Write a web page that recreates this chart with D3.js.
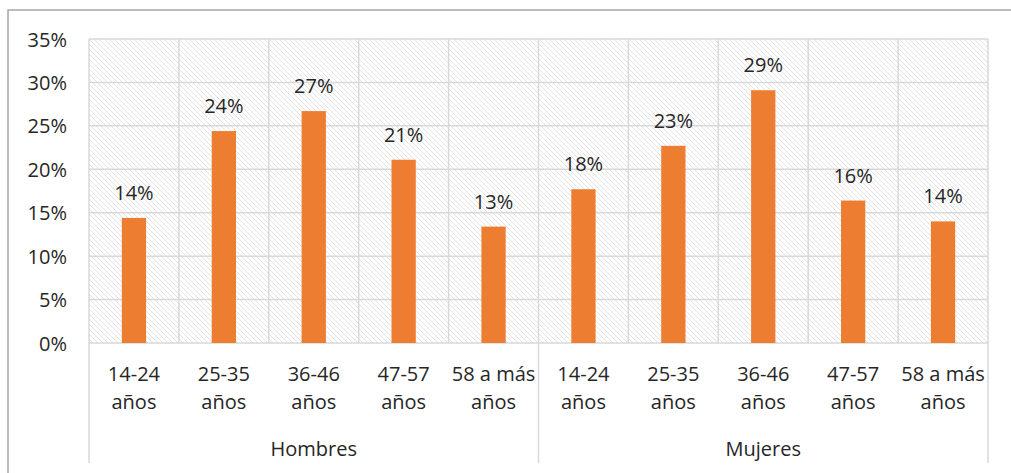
<!DOCTYPE html>
<html>
<head>
<meta charset="utf-8">
<script src="https://cdn.jsdelivr.net/npm/d3@7/dist/d3.min.js"></script>
<style>
  body { margin: 0; background: #fff; }
  text { font-family: "Open Sans", "Noto Sans", sans-serif; fill: #262626; }
</style>
</head>
<body>
<div id="chart"></div>
<script>
// Datos
var grupos = ["Hombres", "Mujeres"];
var edades = ["14-24 años", "25-35 años", "36-46 años", "47-57 años", "58 a más años"];
var hombres = [0.144, 0.244, 0.267, 0.211, 0.134];
var mujeres = [0.177, 0.227, 0.291, 0.164, 0.140];
var ticks = [0, 0.05, 0.10, 0.15, 0.20, 0.25, 0.30, 0.35];

var width = 1011, height = 473;
var plot = { left: 89, right: 988, top: 39, bottom: 343 };
var fontSize = "20px";

// Tabla combinada
var datos = [];
grupos.forEach(function(g, gi) {
    var vals = gi === 0 ? hombres : mujeres;
    edades.forEach(function(e, i) {
        datos.push({ key: g + "|" + e, grupo: g, edad: e, valor: vals[i] });
    });
});

var svg = d3.select("#chart").append("svg")
    .attr("width", width)
    .attr("height", height);

// Patrón de rayado del fondo
var defs = svg.append("defs");
defs.append("pattern")
    .attr("id", "rayas")
    .attr("patternUnits", "userSpaceOnUse")
    .attr("width", 5).attr("height", 5)
  .append("path")
    .attr("d", "M-1,-1 L6,6 M-1,4 L1,6 M4,-1 L6,1")
    .attr("stroke", "#e0e0e0")
    .attr("stroke-width", 0.9);

// Borde exterior
svg.append("rect")
    .attr("x", 8).attr("y", 10)
    .attr("width", 1010).attr("height", 470)
    .attr("fill", "none")
    .attr("stroke", "#a6a6a6")
    .attr("stroke-width", 1.5);

var xScale = d3.scaleBand()
    .domain(datos.map(function(d) { return d.key; }))
    .range([plot.left, plot.right])
    .padding(0);

var yScale = d3.scaleLinear()
    .domain([0, 0.35])
    .range([plot.bottom, plot.top]);

// Fondo rayado
svg.append("rect")
    .attr("x", plot.left).attr("y", plot.top)
    .attr("width", plot.right - plot.left)
    .attr("height", plot.bottom - plot.top)
    .attr("fill", "url(#rayas)");

// Líneas de cuadrícula horizontales
svg.append("g")
    .selectAll("line")
    .data(ticks)
    .enter().append("line")
    .attr("x1", plot.left).attr("x2", plot.right)
    .attr("y1", function(d) { return yScale(d); })
    .attr("y2", function(d) { return yScale(d); })
    .attr("stroke", "#d9d9d9")
    .attr("stroke-width", 1.5);

// Líneas verticales entre categorías
svg.append("g")
    .selectAll("line")
    .data(datos)
    .enter().append("line")
    .attr("x1", function(d) { return xScale(d.key); })
    .attr("x2", function(d) { return xScale(d.key); })
    .attr("y1", plot.top).attr("y2", plot.bottom)
    .attr("stroke", "#d9d9d9")
    .attr("stroke-width", 1.5);
svg.append("line")
    .attr("x1", plot.right).attr("x2", plot.right)
    .attr("y1", plot.top).attr("y2", plot.bottom)
    .attr("stroke", "#d9d9d9")
    .attr("stroke-width", 1.5);

// Separadores de grupos (se extienden bajo el eje)
var separadores = [xScale(grupos[0] + "|" + edades[0]), xScale(grupos[1] + "|" + edades[0]), plot.right];
svg.append("g")
    .selectAll("line")
    .data(separadores)
    .enter().append("line")
    .attr("x1", function(d) { return d; })
    .attr("x2", function(d) { return d; })
    .attr("y1", plot.bottom).attr("y2", 463)
    .attr("stroke", "#d9d9d9")
    .attr("stroke-width", 1.5);

// Eje y
var yAxis = svg.append("g")
    .attr("transform", "translate(" + (plot.left - 22) + ",0)")
    .call(d3.axisLeft(yScale).tickValues(ticks).tickFormat(d3.format(".0%")).tickSize(0).tickPadding(0));
yAxis.select(".domain").remove();
yAxis.selectAll("text")
    .attr("dy", "0.35em")
    .style("font-size", fontSize)
    .style("font-family", "'Open Sans', sans-serif")
    .attr("fill", "#262626");

// Barras
var barW = xScale.bandwidth() * 0.27;
svg.selectAll(".bar")
    .data(datos)
    .enter().append("rect")
    .attr("class", "bar")
    .attr("x", function(d) { return xScale(d.key) + (xScale.bandwidth() - barW) / 2; })
    .attr("y", function(d) { return yScale(d.valor); })
    .attr("width", barW)
    .attr("height", function(d) { return yScale(0) - yScale(d.valor); })
    .attr("fill", "#ed7d31");

// Etiquetas de datos
svg.selectAll(".etiqueta")
    .data(datos)
    .enter().append("text")
    .attr("class", "etiqueta")
    .attr("x", function(d) { return xScale(d.key) + xScale.bandwidth() / 2; })
    .attr("y", function(d) { return yScale(d.valor) - 18; })
    .attr("text-anchor", "middle")
    .style("font-size", fontSize)
    .text(function(d) { return Math.round(d.valor * 100) + "%"; });

// Etiquetas de categorías (dos líneas)
var cat = svg.selectAll(".cat")
    .data(datos)
    .enter().append("text")
    .attr("class", "cat")
    .attr("text-anchor", "middle")
    .style("font-size", fontSize);
cat.append("tspan")
    .attr("x", function(d) { return xScale(d.key) + xScale.bandwidth() / 2; })
    .attr("y", 381)
    .text(function(d) { return d.edad.replace(" años", ""); });
cat.append("tspan")
    .attr("x", function(d) { return xScale(d.key) + xScale.bandwidth() / 2; })
    .attr("y", 409)
    .text("años");

// Etiquetas de grupos
svg.selectAll(".grupo")
    .data(grupos)
    .enter().append("text")
    .attr("class", "grupo")
    .attr("x", function(g) { return xScale(g + "|" + edades[0]) + xScale.bandwidth() * edades.length / 2; })
    .attr("y", 456)
    .attr("text-anchor", "middle")
    .style("font-size", fontSize)
    .text(function(g) { return g; });
</script>
</body>
</html>
